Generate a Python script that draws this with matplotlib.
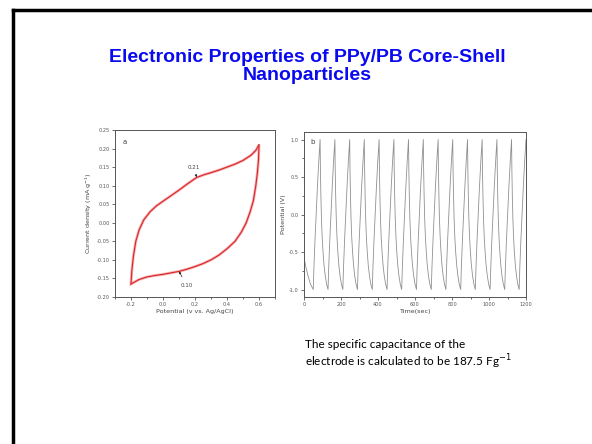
import numpy as np
import matplotlib.pyplot as plt
from matplotlib.lines import Line2D
from matplotlib.ticker import MultipleLocator, FormatStrFormatter

# CV curve (a), potential vs current density
cv_up_x = [-0.2, -0.195, -0.185, -0.17, -0.15, -0.12, -0.08, -0.04, 0.0, 0.05, 0.1, 0.15, 0.21,
           0.26, 0.3, 0.35, 0.4, 0.45, 0.5, 0.55, 0.58, 0.6]
cv_up_y = [-0.165, -0.13, -0.09, -0.05, -0.02, 0.008, 0.03, 0.046, 0.058, 0.073, 0.088, 0.104, 0.122,
           0.13, 0.135, 0.142, 0.15, 0.158, 0.168, 0.182, 0.195, 0.21]
cv_dn_x = [0.6, 0.597, 0.59, 0.58, 0.565, 0.545, 0.52, 0.49, 0.45, 0.4, 0.35, 0.3, 0.25, 0.2,
           0.15, 0.1, 0.05, 0.0, -0.05, -0.1, -0.15, -0.2]
cv_dn_y = [0.21, 0.17, 0.135, 0.1, 0.06, 0.03, 0.0, -0.025, -0.05, -0.07, -0.087, -0.1, -0.11, -0.118,
           -0.125, -0.131, -0.135, -0.139, -0.142, -0.146, -0.153, -0.165]

# charge/discharge (b): times of minima/peaks, and the shape of one charge and discharge
t_min = [50, 130, 210, 289, 369, 449, 528, 608, 688, 767, 847, 926, 1006, 1085, 1163]
t_peak = [87, 167, 247, 326, 406, 486, 565, 645, 725, 804, 884, 963, 1043, 1122, 1200]
chg_v = [-1.0, -0.7, -0.35, 0.0, 0.35, 0.7, 1.0]
chg_f = [0.0, 0.1, 0.25, 0.42, 0.6, 0.8, 1.0]
dis_v = [1.0, 0.6, 0.25, -0.05, -0.3, -0.5, -0.68, -0.82, -0.93, -1.0]
dis_f = [0.0, 0.04, 0.1, 0.17, 0.26, 0.37, 0.5, 0.65, 0.82, 1.0]
first_t = [0, 10, 22, 35, 50]
first_v = [-0.58, -0.7, -0.82, -0.93, -1.0]

fig = plt.figure(figsize=(5.92, 4.44), dpi=100)
fig.patch.set_facecolor('white')

# slide border (top and left only)
fig.add_artist(Line2D([13/592, 1], [1 - 10/444, 1 - 10/444], color='black', lw=2.5))
fig.add_artist(Line2D([13/592, 13/592], [0, 1 - 10/444], color='black', lw=2.5))

title_col = '#0a0af0'
fig.text(307/592, 1 - 58/444, 'Electronic Properties of PPy/PB Core-Shell', ha='center', va='center',
         color=title_col, fontsize=14, fontweight='bold', family='Liberation Sans')
fig.text(307/592, 1 - 76/444, 'Nanoparticles', ha='center', va='center',
         color=title_col, fontsize=14, fontweight='bold', family='Liberation Sans')

fig.text(305/592, 1 - 345/444, 'The specific capacitance of the', ha='left', va='center',
         fontsize=8.5, family='Lato', color='black')
fig.text(305/592, 1 - 362/444, 'electrode is calculated to be 187.5 Fg$^{-1}$', ha='left', va='center',
         fontsize=8.5, family='Lato', color='black')

gray = '#555555'
tick_fs = 3.6
lab_fs = 4.6


def style(ax):
    for s in ax.spines.values():
        s.set_color(gray)
        s.set_linewidth(0.7)
    ax.tick_params(which='both', direction='out', colors=gray, labelsize=tick_fs,
                   top=False, right=False, width=0.6, pad=1.5)
    ax.tick_params(which='major', length=2.2)
    ax.tick_params(which='minor', length=1.3)


# panel a
ax1 = fig.add_axes([115/592, 1 - 297/444, 160/592, 167/444])
ax1.fill(cv_up_x + cv_dn_x, cv_up_y + cv_dn_y, fill=False, color='#f6b0b0', lw=2.0)
ax1.plot(cv_up_x, cv_up_y, color='#d8252a', lw=0.8)
ax1.plot(cv_dn_x, cv_dn_y, color='#d8252a', lw=0.8)
ax1.set_xlim(-0.3, 0.7)
ax1.set_ylim(-0.2, 0.25)
ax1.xaxis.set_major_locator(MultipleLocator(0.2))
ax1.xaxis.set_minor_locator(MultipleLocator(0.1))
ax1.yaxis.set_major_locator(MultipleLocator(0.05))
ax1.xaxis.set_major_formatter(FormatStrFormatter('%.1f'))
ax1.yaxis.set_major_formatter(FormatStrFormatter('%.2f'))
style(ax1)
ax1.set_xlabel('Potential (v vs. Ag/AgCl)', fontsize=lab_fs, color='#444444', labelpad=1)
ax1.set_ylabel('Current density (mA g$^{-1}$)', fontsize=lab_fs, color='#444444', labelpad=2)
ax1.text(0.05, 0.93, 'a', transform=ax1.transAxes, fontsize=5, color='#444444', va='center')
ax1.annotate('0.21', xy=(0.21, 0.123), xytext=(0.19, 0.15), fontsize=4, color='#444444',
             ha='center', va='center',
             arrowprops=dict(arrowstyle='-|>', color='#222222', lw=0.5, mutation_scale=3,
                             shrinkA=2, shrinkB=0))
ax1.annotate('0.10', xy=(0.1, -0.131), xytext=(0.15, -0.17), fontsize=4, color='#444444',
             ha='center', va='center',
             arrowprops=dict(arrowstyle='-|>', color='#222222', lw=0.5, mutation_scale=3,
                             shrinkA=3, shrinkB=0))

# panel b
ax2 = fig.add_axes([304/592, 1 - 297/444, 222/592, 165/444])
tt = list(first_t)
vv = list(first_v)
for i in range(len(t_peak)):
    dt = t_peak[i] - t_min[i]
    tt += [t_min[i] + f * dt for f in chg_f]
    vv += chg_v
    if i + 1 < len(t_min):
        dd = t_min[i + 1] - t_peak[i]
        tt += [t_peak[i] + f * dd for f in dis_f]
        vv += dis_v
ax2.plot(tt, vv, color='#909090', lw=0.6)
ax2.set_xlim(0, 1200)
ax2.set_ylim(-1.1, 1.1)
ax2.xaxis.set_major_locator(MultipleLocator(200))
ax2.xaxis.set_minor_locator(MultipleLocator(100))
ax2.yaxis.set_major_locator(MultipleLocator(0.5))
ax2.yaxis.set_minor_locator(MultipleLocator(0.25))
ax2.yaxis.set_major_formatter(FormatStrFormatter('%.1f'))
style(ax2)
ax2.set_xlabel('Time(sec)', fontsize=lab_fs, color='#444444', labelpad=1)
ax2.set_ylabel('Potential (V)', fontsize=lab_fs, color='#444444', labelpad=2)
ax2.text(0.03, 0.94, 'b', transform=ax2.transAxes, fontsize=5, color='#444444', va='center')

fig.savefig('out.png', dpi=100)
